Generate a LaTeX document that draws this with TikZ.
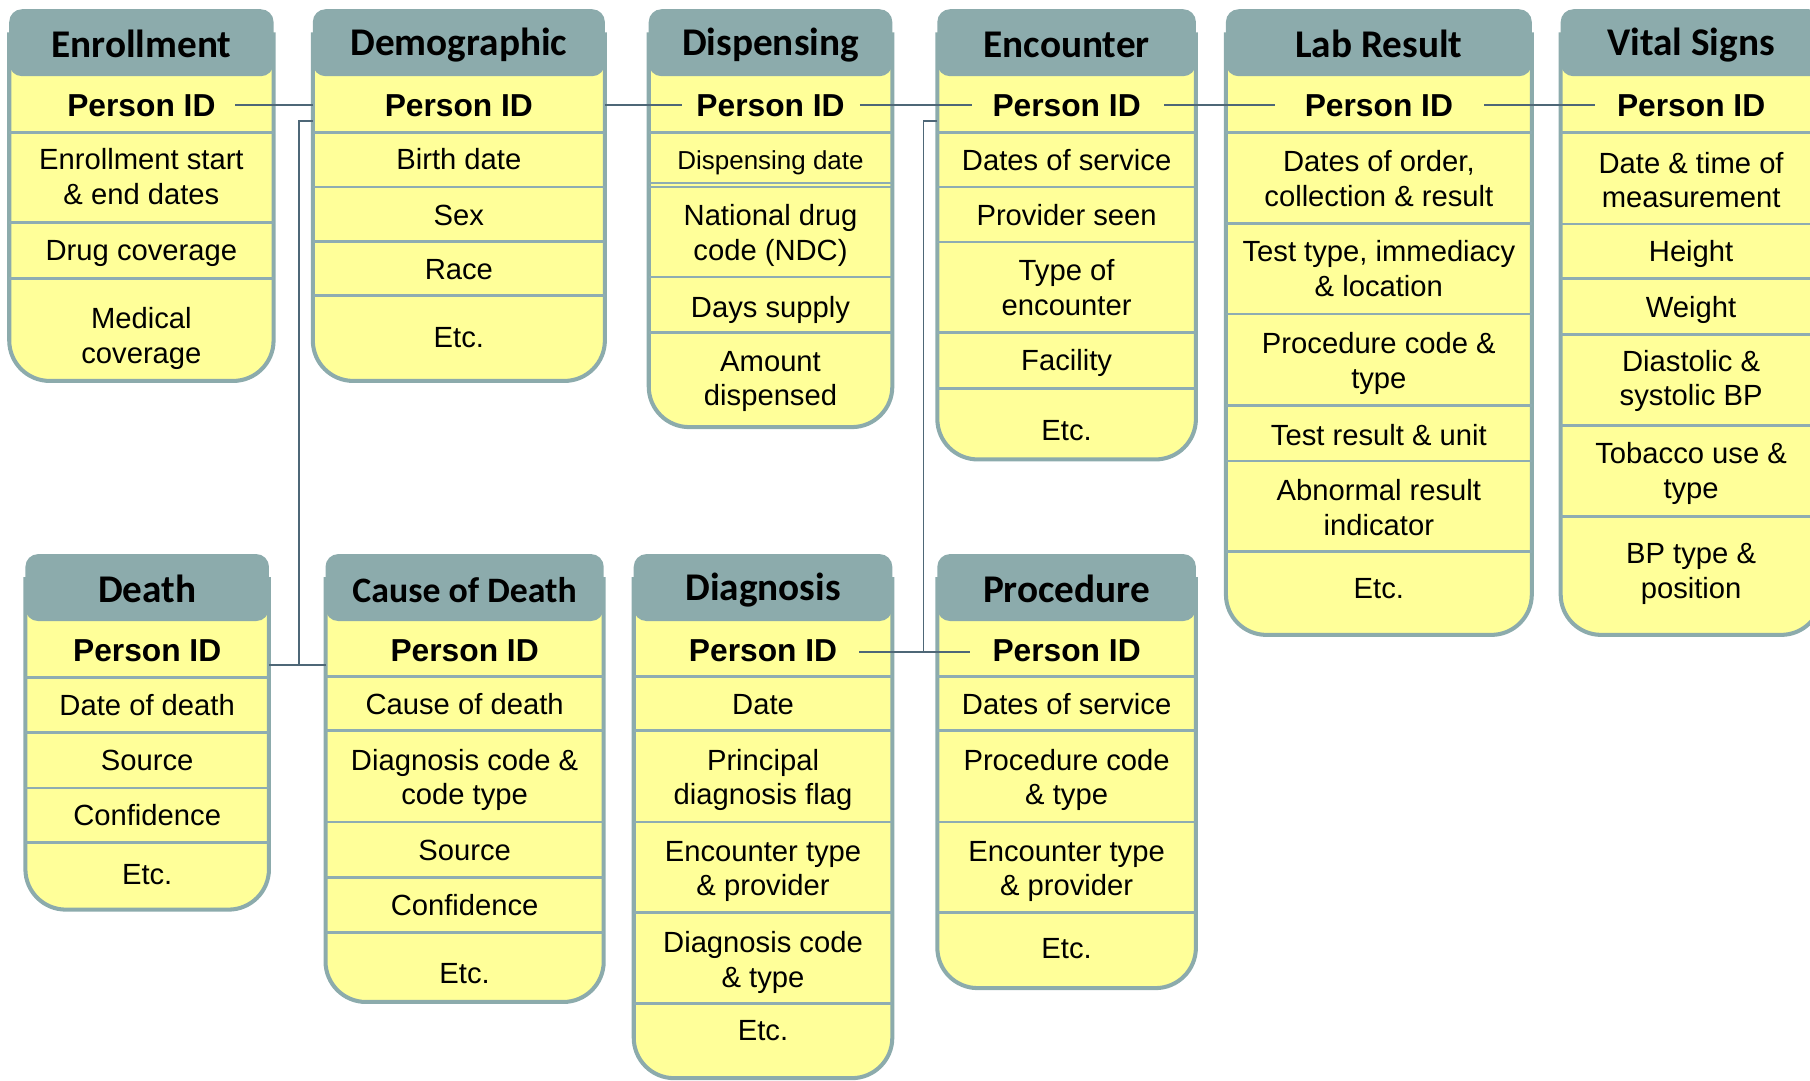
\documentclass[tikz,border=0pt]{standalone}
\usepackage{fontspec}
\setmainfont{Liberation Sans}
\newfontfamily\hdrfont{Carlito}
\definecolor{hdrteal}{HTML}{8CABAC}
\definecolor{cellyellow}{HTML}{FFFF99}
\definecolor{septeal}{HTML}{8EADB2}
\definecolor{linkslate}{HTML}{4E6777}
\newcommand\vstrut[2]{\rule[-#2]{0pt}{\dimexpr#1+#2\relax}}
\tikzset{
  hdr/.style={fill=hdrteal, rounded corners=11pt, inner sep=0pt, outer sep=0pt, text=black,
    font=\hdrfont\bfseries\fontsize{34pt}{40pt}\selectfont,
    execute at begin node={\vstrut{28pt}{2pt}}},
  cell/.style={align=center, inner sep=0pt,
    font=\fontsize{25.3pt}{30pt}\selectfont,
    execute at begin node={\vstrut{22pt}{4pt}},
    execute at end node={\vstrut{22pt}{4pt}}},
  twoline/.style={yshift=-2pt},
  pid/.style={inner sep=0pt, font=\bfseries\fontsize{27.5pt}{30pt}\selectfont,
    execute at begin node={\vstrut{24pt}{4pt}}},
  body/.style={fill=cellyellow, draw=hdrteal, line width=3.5pt, rounded corners=35pt},
  sep/.style={draw=septeal, line width=2.3pt},
  thinsep/.style={draw=septeal, line width=1.5pt},
  link/.style={draw=linkslate, line width=1.6pt},
}
\begin{document}
\begin{tikzpicture}[x=1pt,y=-1pt]
\useasboundingbox (0,0) rectangle (1568,936);
\clip (0,0) rectangle (1568,936);

% ---------------- Enrollment
\path[body] (8,28) -- (8,330) -- (237,330) -- (237,28);
\node[hdr, minimum width=229pt, minimum height=58pt] (enr) at (122.5,37) {Enrollment};
\foreach \yy in {115,193,241} \draw[sep] (8,\yy) -- (237,\yy);
\node[pid] (enr-pid) at (122.5,91) {Person ID};
\node[cell, twoline] (enr-a) at (122.5,153) {Enrollment start\\\& end dates};
\node[cell] (enr-b) at (122.5,217.5) {Drug coverage};
\node[cell, twoline] (enr-c) at (122.5,291) {Medical\\coverage};

% ---------------- Demographic
\path[body] (271,28) -- (271,330) -- (524,330) -- (524,28);
\node[hdr, minimum width=253pt, minimum height=58pt] (dem) at (397.5,37) {Demographic};
\foreach \yy in {115,162,209,256} \draw[sep] (271,\yy) -- (524,\yy);
\node[pid] (dem-pid) at (397.5,91) {Person ID};
\node[cell] (dem-a) at (397.5,138) {Birth date};
\node[cell] (dem-b) at (397.5,186) {Sex};
\node[cell] (dem-c) at (397.5,233) {Race};
\node[cell] (dem-d) at (397.5,292) {Etc.};

% ---------------- Dispensing
\path[body] (562,28) -- (562,370) -- (773,370) -- (773,28);
\node[hdr, minimum width=211pt, minimum height=58pt] (disp) at (667.5,37) {Dispensing};
\foreach \yy in {115,162,240,288} \draw[sep] (562,\yy) -- (773,\yy);
\draw[thinsep] (562,158.5) -- (773,158.5);
\node[pid] (disp-pid) at (667.5,91) {Person ID};
\node[cell, font=\fontsize{22.5pt}{30pt}\selectfont] (disp-a) at (667.5,138) {Dispensing date};
\node[cell, twoline] (disp-b) at (667.5,202) {National drug\\code (NDC)};
\node[cell] (disp-c) at (667.5,266.5) {Days supply};
\node[cell, twoline] (disp-d) at (667.5,328.5) {Amount\\dispensed};

% ---------------- Encounter
\path[body] (812,28) -- (812,398) -- (1036,398) -- (1036,28);
\node[hdr, minimum width=224pt, minimum height=58pt] (enc) at (924,37) {Encounter};
\foreach \yy in {115,162,209.5,288,336.5} \draw[sep] (812,\yy) -- (1036,\yy);
\node[pid] (enc-pid) at (924,91) {Person ID};
\node[cell] (enc-a) at (924,138.5) {Dates of service};
\node[cell] (enc-b) at (924,186) {Provider seen};
\node[cell, twoline] (enc-c) at (924,249) {Type of\\encounter};
\node[cell] (enc-d) at (924,313) {Facility};
\node[cell] (enc-e) at (924,372.5) {Etc.};

% ---------------- Lab Result
\path[body] (1062,28) -- (1062,550) -- (1327,550) -- (1327,28);
\node[hdr, minimum width=265pt, minimum height=58pt] (lab) at (1194.5,37) {Lab Result};
\foreach \yy in {115,193.5,272,351.5,399.5,478} \draw[sep] (1062,\yy) -- (1327,\yy);
\node[pid] (lab-pid) at (1194.5,91) {Person ID};
\node[cell, twoline] (lab-a) at (1194.5,154.6) {Dates of order,\\collection \& result};
\node[cell, twoline] (lab-b) at (1194.5,232.4) {Test type, immediacy\\\& location};
\node[cell, twoline] (lab-c) at (1194.5,312.7) {Procedure code \&\\type};
\node[cell] (lab-d) at (1194.5,377) {Test result \& unit};
\node[cell, twoline] (lab-e) at (1194.5,439.5) {Abnormal result\\indicator};
\node[cell] (lab-f) at (1194.5,509.5) {Etc.};

% ---------------- Vital Signs
\path[body] (1352,28) -- (1352,550) -- (1578,550) -- (1578,28);
\node[hdr, minimum width=226pt, minimum height=58pt] (vit) at (1465,37) {Vital Signs};
\foreach \yy in {115,194,241.5,289.5,368.5,447.5} \draw[sep] (1352,\yy) -- (1578,\yy);
\node[pid] (vit-pid) at (1465,91) {Person ID};
\node[cell, twoline] (vit-a) at (1465,155.8) {Date \& time of\\measurement};
\node[cell] (vit-b) at (1465,218) {Height};
\node[cell] (vit-c) at (1465,266.3) {Weight};
\node[cell, twoline] (vit-d) at (1465,328) {Diastolic \&\\systolic BP};
\node[cell, twoline] (vit-e) at (1465,408) {Tobacco use \&\\type};
\node[cell, twoline] (vit-f) at (1465,495) {BP type \&\\position};

% ---------------- Death
\path[body] (22,500) -- (22,788) -- (233,788) -- (233,500);
\node[hdr, minimum width=211pt, minimum height=58pt] (death) at (127.5,509) {Death};
\foreach \yy in {587,634.5,682.5,730} \draw[sep] (22,\yy) -- (233,\yy);
\node[pid] (death-pid) at (127.5,563) {Person ID};
\node[cell] (death-a) at (127.5,611) {Date of death};
\node[cell] (death-b) at (127.5,658.5) {Source};
\node[cell] (death-c) at (127.5,706.5) {Confidence};
\node[cell] (death-d) at (127.5,757.5) {Etc.};

% ---------------- Cause of Death
\path[body] (282,500) -- (282,868) -- (523,868) -- (523,500);
\node[hdr, minimum width=241pt, minimum height=58pt, font=\hdrfont\bfseries\fontsize{31pt}{36pt}\selectfont] (cod) at (402.5,509) {Cause of Death};
\foreach \yy in {586,633,712,760,808} \draw[sep] (282,\yy) -- (523,\yy);
\node[pid] (cod-pid) at (402.5,563) {Person ID};
\node[cell] (cod-a) at (402.5,610) {Cause of death};
\node[cell, twoline] (cod-b) at (402.5,673.7) {Diagnosis code \&\\code type};
\node[cell] (cod-c) at (402.5,736.3) {Source};
\node[cell] (cod-d) at (402.5,784.2) {Confidence};
\node[cell] (cod-e) at (402.5,843.3) {Etc.};

% ---------------- Diagnosis
\path[body] (549,500) -- (549,934) -- (773,934) -- (773,500);
\node[hdr, minimum width=224pt, minimum height=58pt] (diag) at (661,509) {Diagnosis};
\foreach \yy in {586,633,712,790.5,869.5} \draw[sep] (549,\yy) -- (773,\yy);
\node[pid] (diag-pid) at (661,563) {Person ID};
\node[cell] (diag-a) at (661,610) {Date};
\node[cell, twoline] (diag-b) at (661,673.7) {Principal\\diagnosis flag};
\node[cell, twoline] (diag-c) at (661,753) {Encounter type\\\& provider};
\node[cell, twoline] (diag-d) at (661,831.5) {Diagnosis code\\\& type};
\node[cell] (diag-e) at (661,892.3) {Etc.};

% ---------------- Procedure
\path[body] (812,500) -- (812,856) -- (1036,856) -- (1036,500);
\node[hdr, minimum width=224pt, minimum height=58pt] (proc) at (924,509) {Procedure};
\foreach \yy in {586,633,712,790.5} \draw[sep] (812,\yy) -- (1036,\yy);
\node[pid] (proc-pid) at (924,563) {Person ID};
\node[cell] (proc-a) at (924,610) {Dates of service};
\node[cell, twoline] (proc-b) at (924,673.7) {Procedure code\\\& type};
\node[cell, twoline] (proc-c) at (924,753) {Encounter type\\\& provider};
\node[cell] (proc-d) at (924,821.5) {Etc.};

% ---------------- Connectors
\coordinate (dem-tap) at (271,105);
\coordinate (dcj) at (259,576);
\coordinate (enc-tap) at (812,104.5);
\coordinate (dpj) at (800,565);

\draw[link, shorten <=17pt] (enr-pid.east) -- (enr-pid.east -| dem.west);
\draw[link, shorten >=12pt] (disp-pid.west -| dem.east) -- (disp-pid.west);
\draw[link, shorten <=13pt, shorten >=18pt] (disp-pid.east) -- (enc-pid.west);
\draw[link, shorten <=20pt, shorten >=26pt] (enc-pid.east) -- (lab-pid.west);
\draw[link, shorten <=27pt, shorten >=19pt] (lab-pid.east) -- (vit-pid.west);
\draw[link] (dem-tap) -| (dcj);
\draw[link] (dcj -| death.east) -- (dcj -| cod.west);
\draw[link] (enc-tap) -| (dpj);
\draw[link, shorten <=19pt, shorten >=19pt] (dpj -| diag-pid.east) -- (dpj -| proc-pid.west);
\end{tikzpicture}
\end{document}
